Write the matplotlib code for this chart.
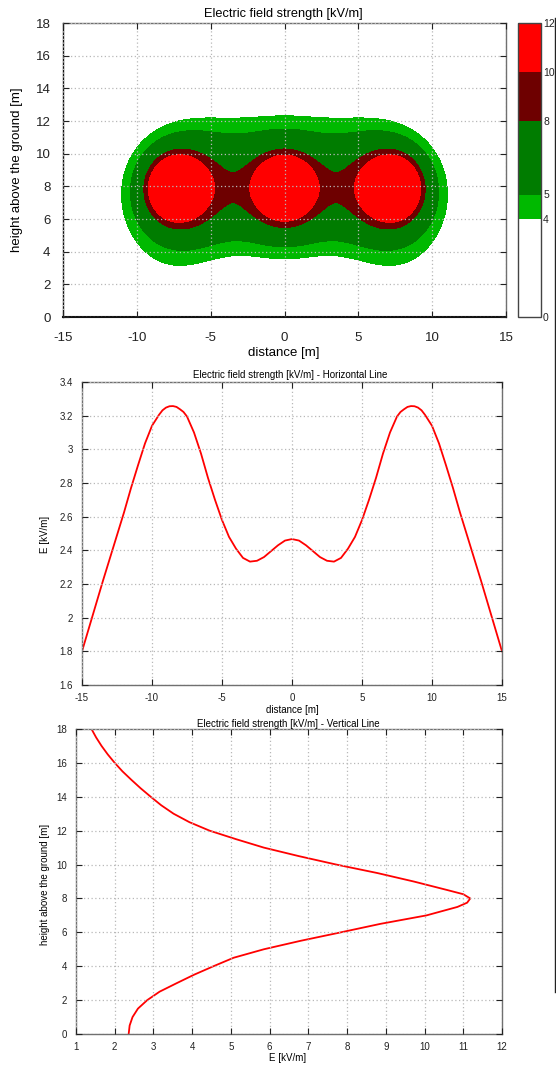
import numpy as np
import matplotlib
matplotlib.use("Agg")
import matplotlib.pyplot as plt
from matplotlib.colors import ListedColormap, BoundaryNorm
from matplotlib.lines import Line2D
from matplotlib.ticker import FormatStrFormatter

plt.rcParams['font.family'] = ['Liberation Sans', 'DejaVu Sans']
plt.rcParams['axes.unicode_minus'] = False

# conductors of the line (positions in m, phase angle in deg, relative charge)
conductor_x = [-7.3, 0.0, 7.3]
conductor_y = [7.9, 7.9, 7.9]
conductor_phase = [120, 0, -120]
conductor_charge = [1.04, 1.0, 1.04]
charge_scale = 17.5      # kV
core_term = 1.3          # extra 1/r^4 part near the conductors
image_factor = 0.75      # ground (mirror) charges

# contour levels and colours of the field map [kV/m]
levels = [0, 4, 5, 8, 10, 12]
level_colors = ['#ffffff', '#00b900', '#007c00', '#6e0000', '#ff0000']

# horizontal line profile
h_dist = [-15, -14.5, -14, -13.5, -13, -12.5, -12, -11.5, -11, -10.5, -10, -9.5, -9.25, -9, -8.75, -8.5,
          -8.25, -8, -7.75, -7.5, -7, -6.5, -6, -5.5, -5, -4.5, -4, -3.5, -3, -2.5, -2, -1.5, -1, -0.5,
          0, 0.5, 1, 1.5, 2, 2.5, 3, 3.5, 4, 4.5, 5, 5.5, 6, 6.5, 7, 7.5, 7.75, 8, 8.25, 8.5, 8.75, 9, 9.25,
          9.5, 10, 10.5, 11, 11.5, 12, 12.5, 13, 13.5, 14, 14.5, 15]
h_field = [1.80, 1.94, 2.08, 2.22, 2.355, 2.49, 2.625, 2.77, 2.905, 3.035, 3.14, 3.205, 3.232, 3.248, 3.256, 3.257,
           3.252, 3.238, 3.222, 3.195, 3.10, 2.975, 2.83, 2.70, 2.58, 2.48, 2.41, 2.355, 2.333, 2.338, 2.36, 2.395,
           2.43, 2.458,
           2.467, 2.458, 2.43, 2.395, 2.36, 2.338, 2.333, 2.355, 2.41, 2.48, 2.58, 2.70, 2.83, 2.975, 3.10, 3.195,
           3.222, 3.238, 3.252, 3.257, 3.256, 3.248, 3.232,
           3.205, 3.14, 3.035, 2.905, 2.77, 2.625, 2.49, 2.355, 2.22, 2.08, 1.94, 1.80]

# vertical line profile
v_height = [0, 0.5, 1, 1.5, 2, 2.5, 3, 3.5, 4, 4.5, 5, 5.5, 6, 6.5, 7, 7.5, 7.75, 8, 8.25, 8.5,
            9, 9.5, 10, 10.5, 11, 11.5, 12, 12.5, 13, 13.5, 14, 14.5, 15, 15.5, 16, 16.5, 17, 17.5, 18]
v_field = [2.36, 2.385, 2.46, 2.60, 2.84, 3.16, 3.60, 4.05, 4.55, 5.07, 5.85, 6.80, 7.84, 8.86, 10.05, 10.85, 11.10, 11.18, 11.0, 10.58,
           9.72, 8.78, 7.72, 6.75, 5.85, 5.13, 4.45, 3.93, 3.52, 3.20, 2.93, 2.67, 2.43, 2.20, 2.00, 1.82, 1.66, 1.52, 1.40]

W, H = 556, 1065
fig = plt.figure(figsize=(W / 100, H / 100), dpi=100)


def box(l, t, r, b):
    return [l / W, 1 - b / H, (r - l) / W, (b - t) / H]


def style(ax, fs, pad_x, pad_y):
    ax.grid(True, color='#b8b8b8', linestyle=(0, (1, 2)), linewidth=0.9)
    ax.set_axisbelow(False)
    ax.tick_params(direction='in', top=True, right=True, length=4, width=0.8,
                   labelsize=fs, colors='#222222')
    ax.tick_params(axis='x', pad=pad_x)
    ax.tick_params(axis='y', pad=pad_y)
    for s in ax.spines.values():
        s.set_color('#707070')
        s.set_linewidth(1.0)


def g(r):
    return 1 / r + core_term / r ** 4


# --- field map ---
gx = np.linspace(-15, 15, 751)
gy = np.linspace(0, 18, 451)
X, Y = np.meshgrid(gx, gy)
Ex = np.zeros(X.shape, dtype=complex)
Ey = np.zeros(X.shape, dtype=complex)
for xc, yc, ph, qc in zip(conductor_x, conductor_y, conductor_phase, conductor_charge):
    w = qc * np.exp(1j * np.deg2rad(ph))
    dx = X - xc
    dy = Y - yc
    dyi = Y + yc
    r = np.sqrt(dx ** 2 + dy ** 2) + 1e-3
    ri = np.sqrt(dx ** 2 + dyi ** 2)
    Ex += w * (dx * g(r) / r - image_factor * dx * g(ri) / ri)
    Ey += w * (dy * g(r) / r - image_factor * dyi * g(ri) / ri)
E = charge_scale * np.sqrt(np.abs(Ex) ** 2 + np.abs(Ey) ** 2)
E = np.minimum(E, levels[-1] - 0.01)

cmap = ListedColormap(level_colors)
norm = BoundaryNorm(levels, cmap.N)

ax1 = fig.add_axes(box(63, 23, 506, 317))
cf = ax1.contourf(X, Y, E, levels=levels, cmap=cmap, norm=norm)
ax1.set_xlim(-15, 15)
ax1.set_ylim(0, 18)
ax1.set_xticks(np.arange(-15, 16, 5))
ax1.set_yticks(np.arange(0, 19, 2))
style(ax1, 9.5, 11, 9)
ax1.spines['left'].set_color('#111111')
ax1.spines['bottom'].set_color('#111111')
ax1.spines['bottom'].set_linewidth(1.5)
fig.text(283 / W, 1 - 14 / H, 'Electric field strength [kV/m]', ha='center', va='center', fontsize=9.2)
fig.text(284 / W, 1 - 353 / H, 'distance [m]', ha='center', va='center', fontsize=9.5)
fig.text(17 / W, 1 - 170 / H, 'height above the ground [m]', ha='center', va='center',
         rotation=90, fontsize=9.5)

cax = fig.add_axes(box(518, 23, 541, 317))
cb = fig.colorbar(cf, cax=cax, ticks=levels, spacing='proportional')
cb.outline.set_edgecolor('#444444')
cb.outline.set_linewidth(1.0)
cax.tick_params(length=0, pad=1.5, labelsize=7.5, colors='#222222')

# --- horizontal line ---
ax2 = fig.add_axes(box(82, 382, 502, 685))
ax2.plot(h_dist, h_field, color='#ff0000', linewidth=1.3)
ax2.set_xlim(-15, 15)
ax2.set_ylim(1.6, 3.4)
ax2.set_xticks(np.arange(-15, 16, 5))
ax2.set_yticks(np.arange(1.6, 3.41, 0.2))
ax2.yaxis.set_major_formatter(FormatStrFormatter('%g'))
style(ax2, 7, 6, 6.5)
fig.text(290 / W, 1 - 375 / H, 'Electric field strength [kV/m] - Horizontal Line',
         ha='center', va='center', fontsize=7)
fig.text(292 / W, 1 - 710 / H, 'distance [m]', ha='center', va='center', fontsize=7)
fig.text(45 / W, 1 - 534 / H, 'E [kV/m]', ha='center', va='center', rotation=90, fontsize=7)

# --- vertical line ---
ax3 = fig.add_axes(box(76, 729, 502, 1034))
ax3.plot(v_field, v_height, color='#ff0000', linewidth=1.3)
ax3.set_xlim(1, 12)
ax3.set_ylim(0, 18)
ax3.set_xticks(np.arange(1, 13, 1))
ax3.set_yticks(np.arange(0, 19, 2))
style(ax3, 7, 5.5, 6.5)
fig.text(288 / W, 1 - 724 / H, 'Electric field strength [kV/m] - Vertical Line',
         ha='center', va='center', fontsize=7)
fig.text(288 / W, 1 - 1058 / H, 'E [kV/m]', ha='center', va='center', fontsize=7)
fig.text(45 / W, 1 - 884 / H, 'height above the ground [m]', ha='center', va='center',
         rotation=90, fontsize=7)

fig.add_artist(Line2D([555.3 / W, 555.3 / W], [1 - 18 / H, 1 - 992 / H], color='#222222', linewidth=1.0))

fig.savefig('out.png', dpi=100)
